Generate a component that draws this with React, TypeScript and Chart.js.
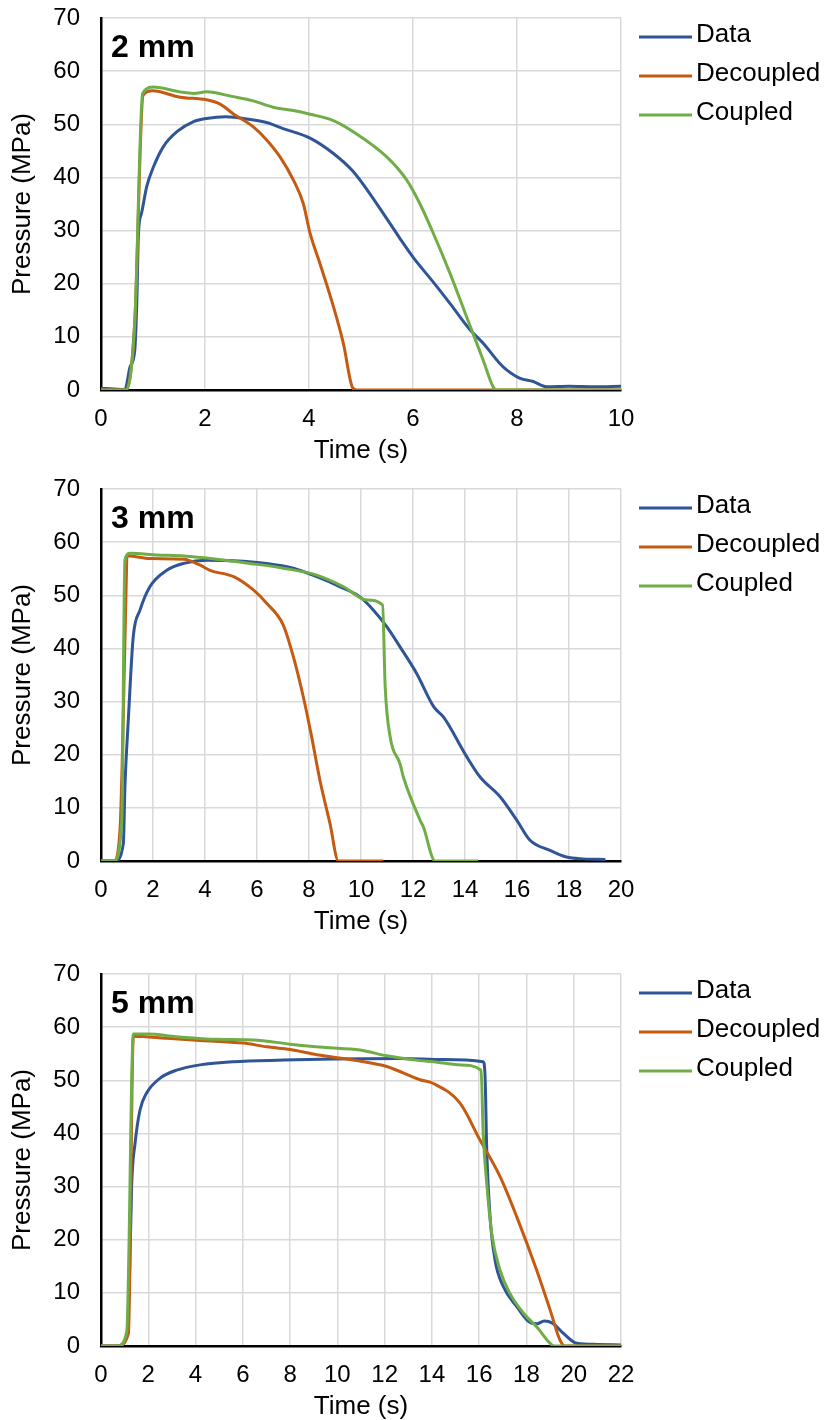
import React, { useEffect, useRef } from "react";
import { Chart, registerables } from "chart.js";

Chart.register(...registerables);

// ---------- Data ----------
const seriesNames = ["Data", "Decoupled", "Coupled"];
const seriesColors = ["#2F5597", "#C55A11", "#70AD47"];
const yTickMax = 70;
const yTickStep = 10;
const xTickStep = 2;

// 2 mm
const t2Data = [0, 0.25, 0.46, 0.56, 0.65, 0.69, 0.72, 0.78, 0.88, 1.01, 1.2, 1.46, 1.78, 2.03, 2.4, 2.87, 3.2, 3.5, 4.02, 4.47, 4.85, 5.43, 5.75, 6.0, 6.39, 6.71, 7.1, 7.35, 7.67, 7.8, 8.06, 8.31, 8.57, 9.0, 9.5, 10.0];
const p2Data = [0.3, 0.2, 0.1, 4.4, 7.5, 17, 29.5, 33.3, 38.3, 42, 45.8, 48.6, 50.5, 51.1, 51.4, 50.9, 50.3, 49.2, 47.4, 44.5, 41.1, 33.2, 28.5, 25, 20.3, 16.3, 11.3, 8.8, 5.0, 3.8, 2.2, 1.6, 0.6, 0.7, 0.6, 0.7];
const t2Dec = [0, 0.48, 0.65, 0.81, 0.99, 1.52, 2.03, 2.29, 2.54, 2.93, 3.19, 3.44, 3.7, 3.89, 4.02, 4.21, 4.47, 4.66, 4.84, 4.92, 10];
const p2Dec = [0, 0, 13, 55.5, 56.3, 55.1, 54.6, 53.8, 52, 49.5, 47, 43.9, 39.5, 35.1, 29.5, 23.8, 15.7, 8.8, 0.4, 0, 0];
const t2Cou = [0, 0.48, 0.65, 0.8, 1.01, 1.52, 1.78, 2.03, 2.54, 2.93, 3.31, 3.7, 4.02, 4.47, 4.85, 5.49, 5.88, 6.13, 6.39, 6.71, 7.03, 7.35, 7.54, 7.6, 10];
const p2Cou = [0, 0, 13, 55.8, 57, 56.1, 55.8, 56.1, 55.2, 54.4, 53.2, 52.6, 51.9, 50.7, 48.6, 43.9, 39.5, 35.1, 29.5, 22, 13.8, 5.6, 0.6, 0, 0];

// 3 mm
const t3Data = [0, 0.54, 0.86, 0.92, 1.05, 1.24, 1.5, 1.88, 2.53, 3.18, 4.07, 5.1, 6.37, 7.4, 8.3, 9.2, 9.96, 10.48, 10.99, 11.5, 12.14, 12.8, 13.17, 14.07, 14.58, 15.35, 15.99, 16.5, 17.27, 17.9, 18.55, 19.4];
const p3Data = [0, 0, 3.3, 13.9, 26.5, 42.2, 47.2, 51.6, 54.7, 56, 56.6, 56.5, 56, 55.1, 53.5, 51.6, 49.7, 47.2, 44.1, 40.3, 35.3, 29, 27.1, 19.6, 15.8, 12.1, 7.7, 3.9, 2, 0.75, 0.4, 0.3];
const t3Dec = [0, 0.5, 0.73, 1.05, 1.88, 3.18, 3.8, 4.19, 5.1, 5.86, 6.37, 7.01, 7.4, 7.78, 8.1, 8.42, 8.81, 9.13, 10.86];
const p3Dec = [0, 0, 5.8, 57.4, 56.9, 56.8, 55.7, 54.7, 53.5, 51, 48.5, 44.4, 38.4, 30.9, 23.4, 15.2, 7, 0, 0];
const t3Cou = [0, 0.5, 0.8, 0.92, 1.12, 2.14, 3.18, 4.45, 5.73, 7.01, 8.3, 9.33, 10.22, 10.83, 10.93, 11.12, 11.5, 11.63, 12.27, 12.4, 12.85, 14.5];
const p3Cou = [0, 0, 7.7, 56.6, 57.9, 57.6, 57.4, 56.8, 56, 55.1, 53.8, 51.6, 49.1, 48.2, 32.8, 23.4, 18.3, 15.8, 7.7, 6.4, 0, 0];

// 5 mm
const t5Data = [0, 0.66, 1.09, 1.2, 1.3, 1.44, 1.65, 1.93, 2.5, 3.2, 4.19, 5.6, 7.71, 9.83, 12.65, 14.5, 16.17, 16.25, 16.32, 16.46, 16.67, 17.02, 17.59, 18.2, 18.45, 18.75, 19.1, 19.56, 20.13, 21, 22];
const p5Data = [0, 0, 1.75, 11.8, 30.6, 38.1, 44.4, 47.6, 50.4, 51.9, 52.9, 53.5, 53.8, 54, 54.1, 53.9, 53.5, 50.7, 36.9, 24.3, 16.2, 11.2, 7.4, 4.3, 4.2, 4.7, 4.3, 2.4, 0.5, 0.3, 0.2];
const t5Dec = [0, 0.7, 1.16, 1.37, 2.78, 4.19, 6.02, 7.01, 8, 9.13, 10.82, 12.09, 13.5, 14.06, 15.19, 16.03, 16.88, 17.59, 18.43, 19, 19.42, 19.63, 22];
const p5Dec = [0, 0, 2.4, 58.3, 57.9, 57.5, 57, 56.3, 55.8, 54.8, 53.7, 52.6, 50.1, 49.4, 45.7, 38.8, 31.9, 24.3, 14.3, 6.8, 1.1, 0, 0];
const t5Cou = [0, 0.7, 1.09, 1.37, 2.0, 3.18, 4.9, 6.44, 8, 9.4, 10.96, 12.09, 13.5, 14.06, 15.19, 16.08, 16.17, 16.32, 16.53, 16.88, 17.3, 17.87, 18.43, 19.07, 19.2, 22];
const p5Cou = [0, 0, 2.7, 58.7, 58.7, 58.2, 57.7, 57.6, 56.8, 56.2, 55.7, 54.6, 53.7, 53.5, 52.9, 51.9, 40, 30.6, 21.2, 14.3, 9.9, 6.2, 3.6, 0.2, 0, 0];

const panelLabels = ["2 mm", "3 mm", "5 mm"];
const panelXMax = [10, 20, 22];

// ---------- Rendering ----------
const FONT = "'Liberation Sans', Arial, Helvetica, sans-serif";
Chart.defaults.font.family = FONT;
Chart.defaults.color = "#000";

const toPoints = (t: number[], p: number[]) => t.map((x, i) => ({ x, y: p[i] }));

const cornerLabel = {
  id: "cornerLabel",
  afterDraw(chart: any, _args: any, opts: any) {
    const { ctx, chartArea } = chart;
    ctx.save();
    ctx.font = `bold 32px ${FONT}`;
    ctx.fillStyle = "#000";
    ctx.textBaseline = "alphabetic";
    ctx.textAlign = "left";
    ctx.fillText(opts.text, chartArea.left + 10, chartArea.top + 39);
    ctx.restore();
  },
};

function makeLegendImage(color: string) {
  const c = document.createElement("canvas");
  c.width = 67;
  c.height = 14;
  const g = c.getContext("2d")!;
  g.fillStyle = color;
  g.fillRect(14, 7.5, 53, 3);
  return c;
}

const gridColor = (ctx: any) =>
  ctx.tick && ctx.tick.value === 0 ? "rgba(0,0,0,0)" : "#d9d9d9";

function Panel({ label, xMax, series }: { label: string; xMax: number; series: { t: number[]; p: number[] }[] }) {
  const ref = useRef<HTMLCanvasElement>(null);
  useEffect(() => {
    const images = seriesColors.map(makeLegendImage);
    const chart = new Chart(ref.current!, {
      type: "line",
      data: {
        datasets: series.map((s, i) => ({
          label: seriesNames[i],
          data: toPoints(s.t, s.p),
          borderColor: seriesColors[i],
          backgroundColor: seriesColors[i],
          borderWidth: 3,
          pointRadius: 0,
          fill: false,
          cubicInterpolationMode: "monotone" as const,
          borderJoinStyle: "round" as const,
          order: series.length - 1 - i,
        })),
      },
      options: {
        responsive: false,
        animation: false,
        events: [],
        layout: { padding: { top: 9, right: 0, bottom: 0, left: 0 } },
        scales: {
          x: {
            type: "linear",
            min: 0,
            max: xMax,
            ticks: { stepSize: xTickStep, padding: 15, color: "#000", font: { size: 24 }, maxRotation: 0, autoSkip: false },
            grid: { color: gridColor, lineWidth: 1.5, drawTicks: false },
            border: { color: "#000", width: 2.5 },
            title: { display: true, text: "Time (s)", color: "#000", font: { size: 26, lineHeight: 1 }, padding: { top: 0, bottom: 0 } },
            afterFit: (s: any) => { s.height = 74; },
          },
          y: {
            type: "linear",
            min: 0,
            max: yTickMax,
            ticks: { stepSize: yTickStep, padding: 0, color: "#000", font: { size: 24, lineHeight: 1.5 } },
            grid: { color: gridColor, lineWidth: 1.5, drawTicks: true, tickLength: 21, tickColor: "rgba(0,0,0,0)" },
            border: { color: "#000", width: 2.5 },
            title: { display: true, text: "Pressure (MPa)", color: "#000", font: { size: 26, lineHeight: 1 }, padding: { top: 10, bottom: 0 } },
            afterFit: (s: any) => { s.width = 101; },
          },
        },
        plugins: {
          tooltip: { enabled: false },
          legend: {
            display: true,
            position: "right",
            align: "start",
            maxWidth: 207,
            labels: {
              color: "#000",
              font: { size: 26 },
              padding: 13,
              usePointStyle: true,
              pointStyleWidth: 49,
              sort: (a: any, b: any) => a.datasetIndex - b.datasetIndex,
              generateLabels: (ch: any) => {
                const items = (Chart.defaults.plugins.legend.labels as any).generateLabels(ch);
                return items.map((it: any) => ({ ...it, pointStyle: images[it.datasetIndex], lineWidth: 0 }));
              },
            },
          },
          cornerLabel: { text: label },
        } as any,
      },
      plugins: [cornerLabel],
    });
    return () => chart.destroy();
  }, []);
  return <canvas ref={ref} width={828} height={464} style={{ display: "block", width: 828, height: 464 }} />;
}

export default function App() {
  const panels = [
    [{ t: t2Data, p: p2Data }, { t: t2Dec, p: p2Dec }, { t: t2Cou, p: p2Cou }],
    [{ t: t3Data, p: p3Data }, { t: t3Dec, p: p3Dec }, { t: t3Cou, p: p3Cou }],
    [{ t: t5Data, p: p5Data }, { t: t5Dec, p: p5Dec }, { t: t5Cou, p: p5Cou }],
  ];
  const tops = [0, 471, 956];
  return (
    <div style={{ position: "absolute", left: 0, top: 0, width: 828, height: 1420, background: "#fff", overflow: "hidden" }}>
      {panels.map((series, i) => (
        <div key={i} style={{ position: "absolute", left: 0, top: tops[i] }}>
          <Panel label={panelLabels[i]} xMax={panelXMax[i]} series={series} />
        </div>
      ))}
    </div>
  );
}
